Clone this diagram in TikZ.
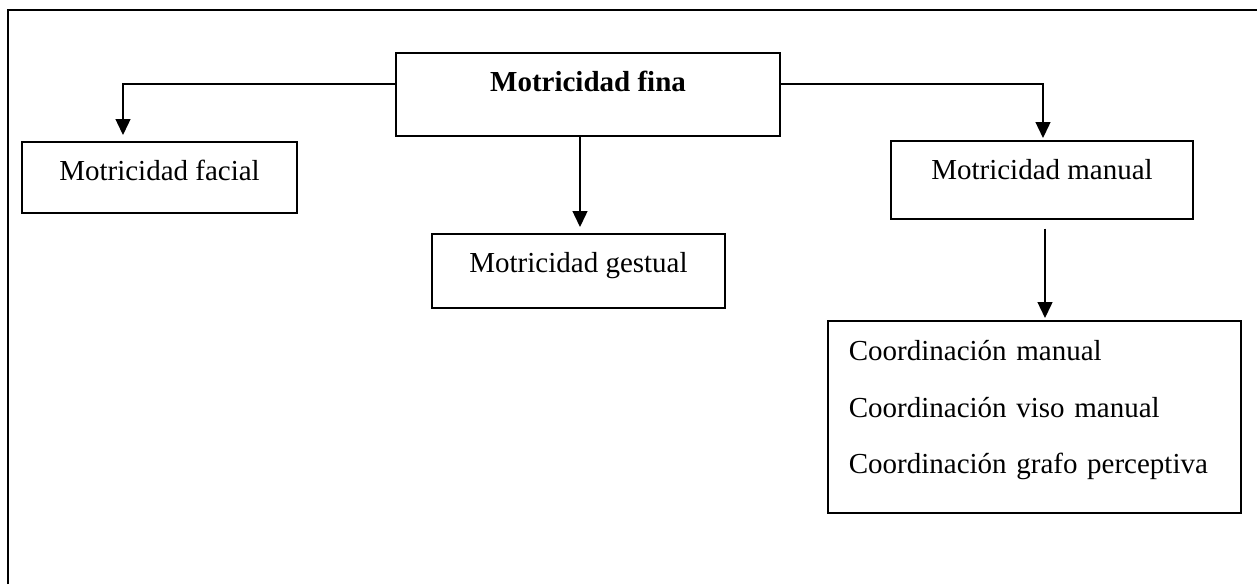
\documentclass[tikz,border=0pt]{standalone}
\usepackage{fontspec}
\setmainfont{Liberation Serif}
\usepackage{tikz}
\usetikzlibrary{arrows.meta}
\tikzstyle{box} = [rectangle, draw=black, line width=1.6pt, inner sep=0pt, anchor=north, text height=38.5pt, font=\fontsize{29}{35}\selectfont]
\tikzstyle{list} = [rectangle, draw=black, line width=1.6pt, inner xsep=21pt, inner ysep=0pt, anchor=north west, align=left, font=\fontsize{29}{56.5}\selectfont]
\tikzstyle{arrow} = [line width=1.4pt,->,>={Triangle[length=16pt,width=15pt]}]

\begin{document}
\begin{tikzpicture}[x=1pt,y=-1pt]
	\useasboundingbox (0,0) rectangle (1257,584);
	\draw [line width=2.2pt] (8,584) -- (8,10) -- (1257,10);
	\node (fina) [box, minimum width=384pt, text depth=44.5pt] at (588,52) {\textbf{Motricidad fina}};
	\node (facial) [box, minimum width=275pt, text depth=32.5pt] at (159.5,141) {Motricidad facial};
	\node (gestual) [box, minimum width=293pt, text depth=35.5pt] at (578.5,233) {Motricidad gestual};
	\node (manual) [box, minimum width=302pt, text depth=39.5pt] at (1042,140) {Motricidad manual};
	\node (coord) [list, text width=371pt, text height=40pt, text depth=152pt] at (827,320) {Coordinación manual\\Coordinación viso manual\\Coordinación grafo perceptiva};
	\draw [arrow] ([yshift=10.5pt]fina.west) -| ([xshift=-36.5pt,yshift=6pt]facial.north);
	\draw [arrow] ([xshift=-8pt]fina.south) -- ([xshift=1.5pt,yshift=6pt]gestual.north);
	\draw [arrow] ([yshift=10.5pt]fina.east) -| ([xshift=1pt,yshift=2pt]manual.north);
	\draw [arrow, shorten >=2pt] ([xshift=3pt,yshift=-9pt]manual.south) -- ([xshift=3pt]manual.south |- coord.north);
\end{tikzpicture}
\end{document}
